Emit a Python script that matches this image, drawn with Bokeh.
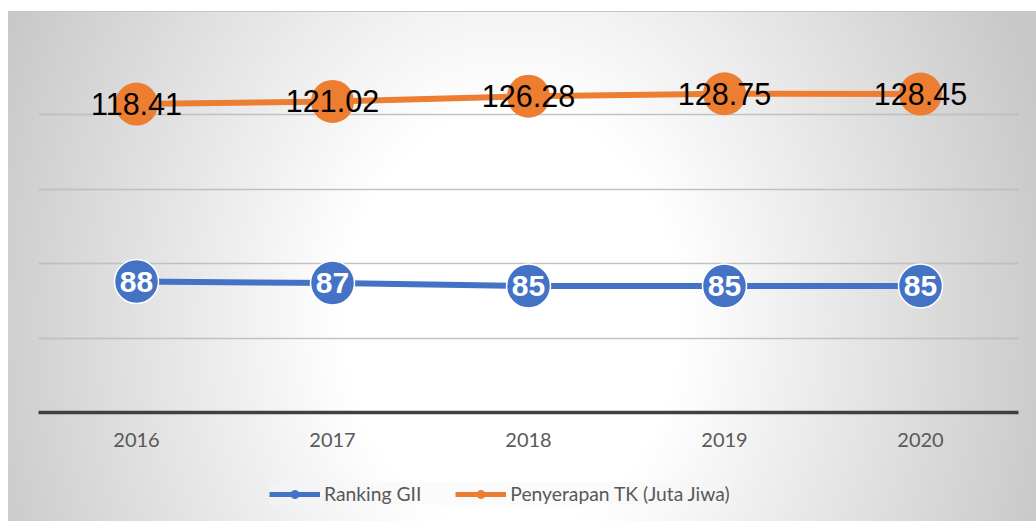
from bokeh.plotting import figure
from bokeh.layouts import column
from bokeh.models import Range1d, FactorRange, ColumnDataSource, Legend, LegendItem, Grid, FixedTicker
from bokeh.core.properties import value
from bokeh.embed import file_html
from bokeh.resources import INLINE

years = ["2016", "2017", "2018", "2019", "2020"]
ranking_gii = [88, 87, 85, 85, 85]
penyerapan_tk = [118.41, 121.02, 126.28, 128.75, 128.45]
gii_labels = [str(v) for v in ranking_gii]
tk_labels = [f"{v:.2f}" for v in penyerapan_tk]
grid_ticks = [0, 50, 100, 150, 200, 250]
series_names = ["Ranking GII", "Penyerapan TK (Juta Jiwa)"]

blue = "#4472C4"
orange = "#ED7D31"

src = ColumnDataSource(dict(year=years, gii=ranking_gii, tk=penyerapan_tk,
                            gii_lbl=gii_labels, tk_lbl=tk_labels))

p = figure(width=1036, height=470,
           x_range=FactorRange(*years, range_padding=0),
           y_range=Range1d(0, 250),
           output_backend="svg", toolbar_location=None,
           y_axis_location=None, title=None,
           min_border_left=38, min_border_right=18,
           min_border_top=40, min_border_bottom=58)
p.extra_y_ranges = {"tk": Range1d(-190, 182)}
p.background_fill_color = None
p.border_fill_color = None
p.outline_line_color = None

p.xgrid.visible = False
p.add_layout(Grid(dimension=1, ticker=FixedTicker(ticks=grid_ticks),
                  grid_line_color="#7a7a7a", grid_line_alpha=0.35,
                  grid_line_width=1.3))

ax = p.xaxis[0]
ax.axis_line_color = "#404040"
ax.axis_line_width = 3.5
ax.major_tick_line_color = None
ax.minor_tick_line_color = None
ax.major_tick_out = 0
ax.major_label_standoff = 20
ax.major_label_text_font = "Lato"
ax.major_label_text_font_size = "20px"
ax.major_label_text_color = "#595959"

p.line(x="year", y="gii", source=src, line_color=blue, line_width=6)
p.scatter(x="year", y="gii", source=src, size=44, fill_color=blue,
          line_color="white", line_width=1.5)
p.line(x="year", y="tk", source=src, line_color=orange, line_width=6,
       y_range_name="tk")
p.scatter(x="year", y="tk", source=src, size=43, fill_color=orange,
          line_color=None, y_range_name="tk")

p.text(x="year", y="gii", text="gii_lbl", source=src, text_align="center",
       text_baseline="middle", text_color="white",
       text_font=value("Liberation Sans"), text_font_style="bold",
       text_font_size="30px")
p.text(x="year", y="tk", text="tk_lbl", source=src, text_align="center",
       text_baseline="middle", text_color="black", y_range_name="tk",
       text_font=value("Liberation Sans"), text_font_size="30.5px")

# legend strip (series drawn outside its visible y-range; only legend shows)
lg = figure(width=1036, height=51, x_range=p.x_range, y_range=Range1d(1000, 1001),
            output_backend="svg", toolbar_location=None,
            x_axis_location=None, y_axis_location=None, title=None,
            min_border=0)
lg.grid.visible = False
lg.background_fill_color = None
lg.border_fill_color = None
lg.outline_line_color = None
lb1 = lg.line(x="year", y="gii", source=src, line_color=blue, line_width=5)
lb2 = lg.scatter(x="year", y="gii", source=src, fill_color=blue, line_color=blue, line_width=1)
lo1 = lg.line(x="year", y="tk", source=src, line_color=orange, line_width=5)
lo2 = lg.scatter(x="year", y="tk", source=src, fill_color=orange, line_color=orange)

legend = Legend(items=[LegendItem(label=series_names[0], renderers=[lb1, lb2]),
                       LegendItem(label=series_names[1], renderers=[lo1, lo2])],
                orientation="horizontal", location=(231, 16),
                glyph_width=51, glyph_height=20, label_standoff=4, spacing=34,
                padding=12, margin=0,
                label_text_font="Lato", label_text_font_size="19.3px",
                label_text_color="#595959",
                background_fill_color="#f6f6f6", background_fill_alpha=0.45,
                border_line_color=None)
lg.add_layout(legend, "center")

layout = column(p, lg, spacing=0)
layout.styles = {
    "background": (
        "linear-gradient(#c4c4c4,#c4c4c4) 8px 11px / 1028px 1px no-repeat, "
        "radial-gradient(ellipse 554px 700px at 504px 309px, #ffffff 0%, #ffffff 30%, #c8c8c8 100%) 8px 11px / 1028px 510px no-repeat, "
        "#ffffff"
    )
}

open("out.html", "w").write(file_html(layout, INLINE))
